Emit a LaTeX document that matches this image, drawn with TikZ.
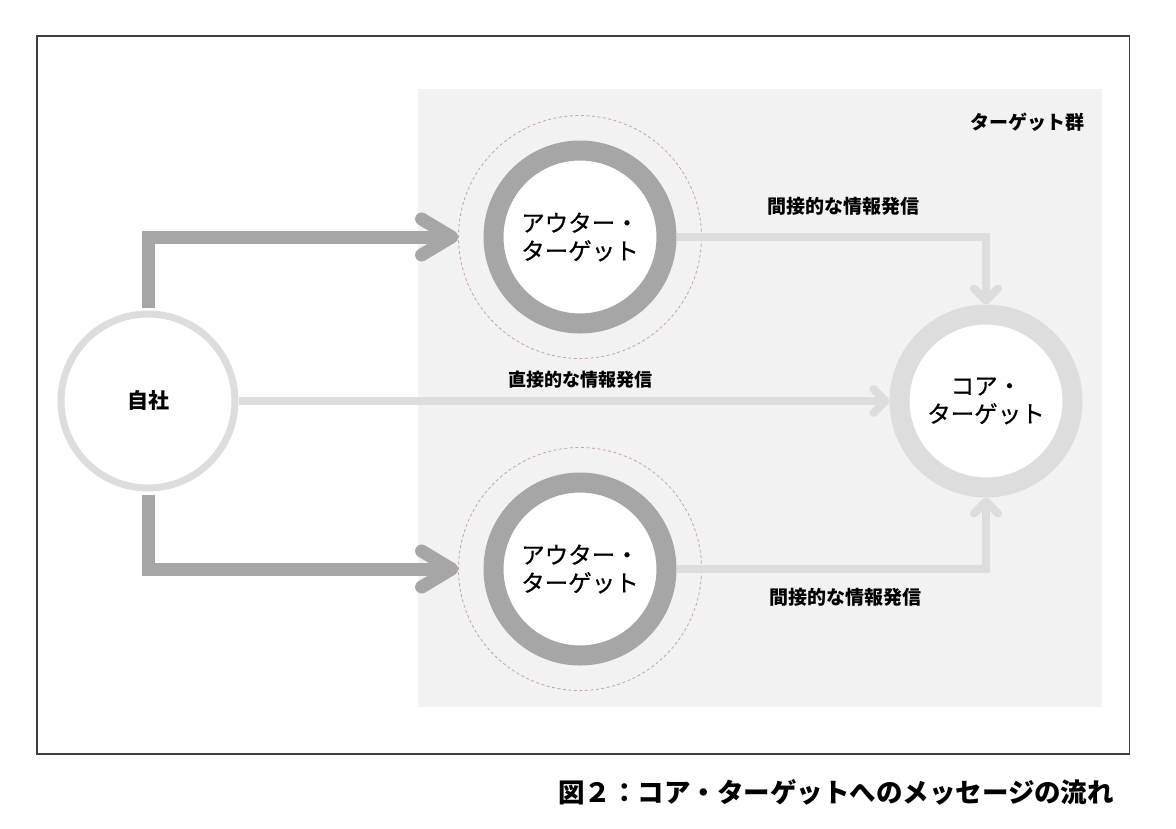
\documentclass[tikz,border=0pt]{standalone}
\usepackage{fontspec}
\setmainfont{Noto Sans CJK JP}
\newfontfamily\ringfont{Noto Sans CJK JP}[FakeBold=0.6]
\usetikzlibrary{arrows.meta}
\definecolor{darkring}{HTML}{A6A6A6}
\definecolor{lightring}{HTML}{DDDDDD}
\definecolor{zone}{HTML}{F2F2F2}
\definecolor{frameline}{HTML}{404040}
\definecolor{dashpink}{HTML}{C4A0BE}
\tikzset{
  ringnode/.style={circle, fill=white, inner sep=0pt, align=center, font=\ringfont\fontsize{23.5}{28}\selectfont},
  outerring/.style={ringnode, draw=darkring, line width=20pt, minimum size=173pt},
  corering/.style={ringnode, draw=lightring, line width=20pt, minimum size=173pt},
  selfring/.style={ringnode, draw=lightring, line width=7pt, minimum size=174pt, font=\bfseries\fontsize{21}{25}\selectfont},
  halo/.style={circle, draw=dashpink, dashed, line width=0.8pt, dash pattern=on 3pt off 2.5pt, minimum size=243pt, inner sep=0pt},
  darkarrow/.style={draw=darkring, line width=13pt, -{Straight Barb[length=30pt, width=36pt, round]}},
  lightarrow/.style={draw=lightring, line width=8pt, -{Straight Barb[length=12pt, width=24pt, round]}},
  lbl/.style={font=\bfseries\fontsize{19}{22}\selectfont, inner sep=0pt},
}
\begin{document}
\begin{tikzpicture}[x=1pt, y=-1pt]
\useasboundingbox (0,0) rectangle (1176,828);
\fill[white] (0,0) rectangle (1176,828);
\draw[frameline, line width=1.2pt] (37,36) rectangle (1129.5,754);
\fill[zone] (418,89) rectangle (1102,707);

\node[halo] (halo1) at (580,237) {};
\node[halo] (halo2) at (580,569) {};
\node[selfring] (self) at (148,401) {自社};
\node[outerring] (outer1) at (580,237) {アウター・\\ターゲット};
\node[outerring] (outer2) at (580,569) {アウター・\\ターゲット};
\node[corering] (core) at (986,401) {コア・\\ターゲット};

\draw[darkarrow] ([yshift=3pt]self.north) |- (halo1.west);
\draw[darkarrow] ([yshift=-3pt]self.south) |- (halo2.west);
\draw[lightarrow] (outer1.east) -| (core.north);
\draw[lightarrow] (outer2.east) -| (core.south);
\draw[lightarrow] (self.east) -- (core.west);

\node[lbl] (l1) at (843,206) {間接的な情報発信};
\node[lbl, font=\bfseries\fontsize{18}{22}\selectfont] (l2) at (580,380) {直接的な情報発信};
\node[lbl] (l3) at (845,597) {間接的な情報発信};
\node[lbl] (grp) at (1027,122) {ターゲット群};
\node[font=\bfseries\fontsize{26.5}{30}\selectfont, inner sep=0pt] (cap) at (836,792) {図２：コア・ターゲットへのメッセージの流れ};
\end{tikzpicture}
\end{document}
